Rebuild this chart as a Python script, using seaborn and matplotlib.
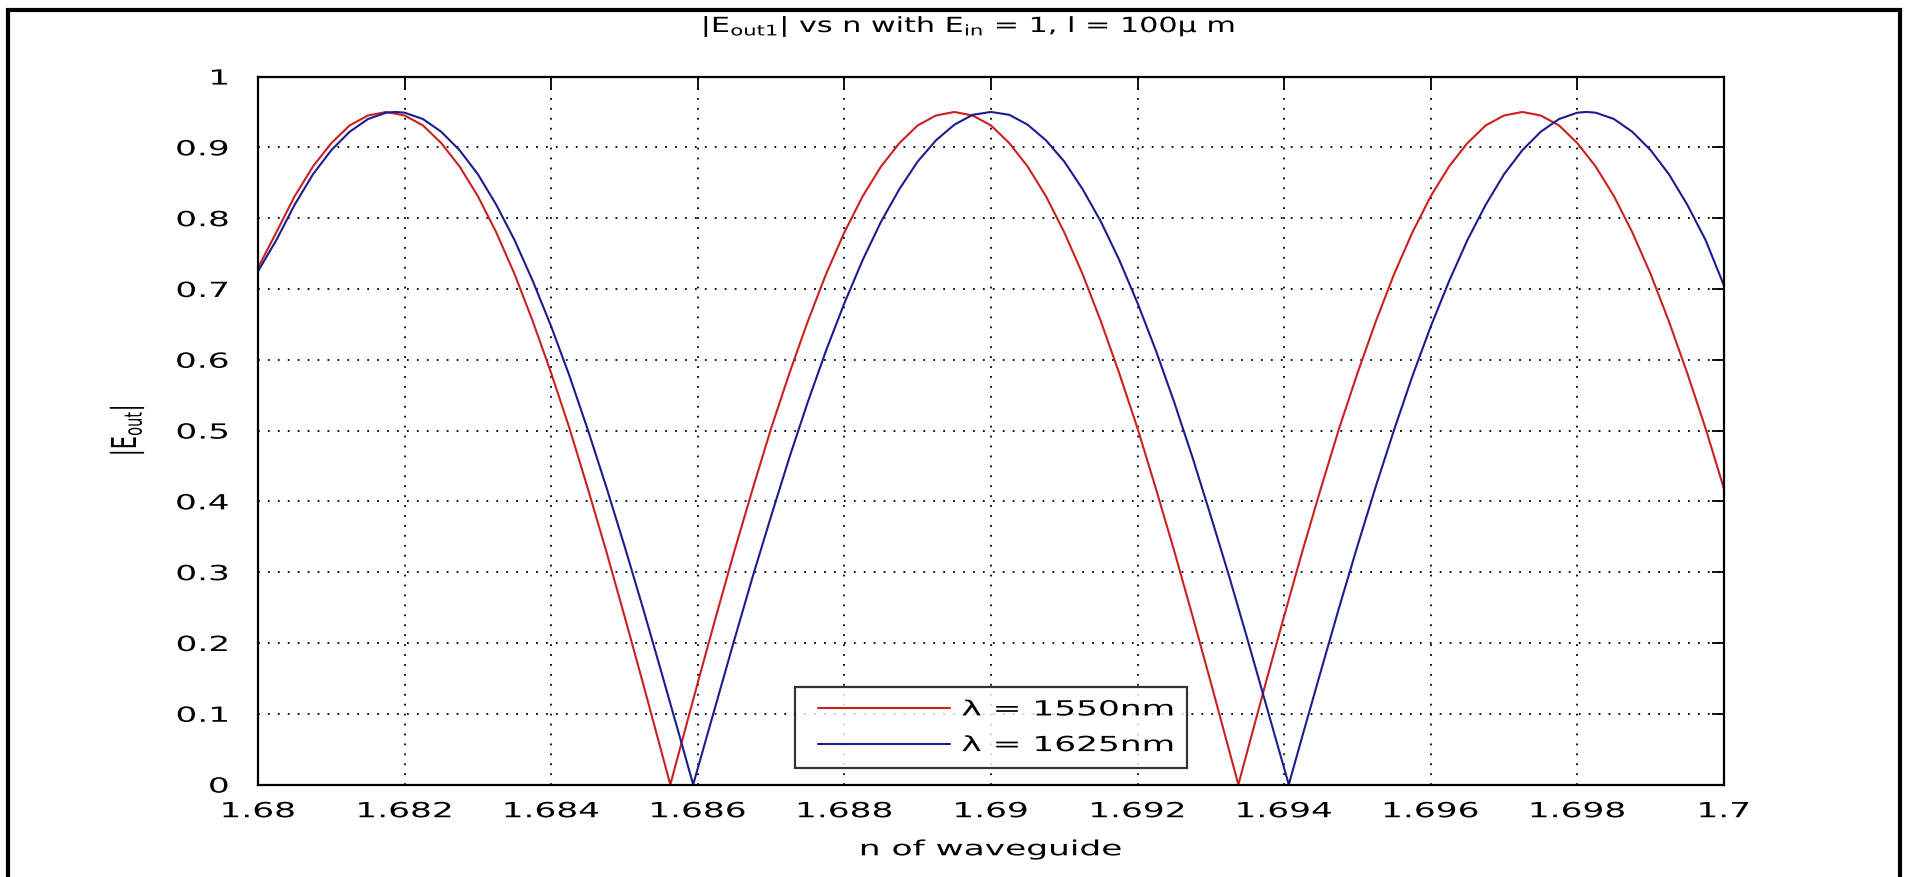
import numpy as np
import pandas as pd
import matplotlib
matplotlib.use("Agg")
import matplotlib.pyplot as plt
from matplotlib.patches import Rectangle
from matplotlib.patheffects import AbstractPathEffect
from matplotlib.transforms import Affine2D
import seaborn as sns

# values
n_red = [1.68000, 1.68025, 1.68050, 1.68075, 1.68100, 1.68125, 1.68150, 1.68175, 1.68200, 1.68225,
         1.68250, 1.68275, 1.68300, 1.68325, 1.68350, 1.68375, 1.68400, 1.68425, 1.68450, 1.68475,
         1.68500, 1.68525, 1.68550, 1.685625, 1.68575, 1.68600, 1.68625, 1.68650, 1.68675, 1.68700,
         1.68725, 1.68750, 1.68775, 1.68800, 1.68825, 1.68850, 1.68875, 1.68900, 1.68925, 1.68950,
         1.68975, 1.69000, 1.69025, 1.69050, 1.69075, 1.69100, 1.69125, 1.69150, 1.69175, 1.69200,
         1.69225, 1.69250, 1.69275, 1.69300, 1.69325, 1.693375, 1.69350, 1.69375, 1.69400, 1.69425,
         1.69450, 1.69475, 1.69500, 1.69525, 1.69550, 1.69575, 1.69600, 1.69625, 1.69650, 1.69675,
         1.69700, 1.69725, 1.69750, 1.69775, 1.69800, 1.69825, 1.69850, 1.69875, 1.69900, 1.69925,
         1.69950, 1.69975, 1.70000]
e_red = [0.730, 0.780, 0.831, 0.873, 0.906, 0.931, 0.945, 0.950, 0.945, 0.931,
         0.906, 0.873, 0.831, 0.780, 0.721, 0.654, 0.581, 0.503, 0.418, 0.330,
         0.238, 0.144, 0.048, 0.000, 0.048, 0.144, 0.238, 0.330, 0.418, 0.503,
         0.581, 0.654, 0.721, 0.780, 0.831, 0.873, 0.906, 0.931, 0.945, 0.950,
         0.945, 0.931, 0.906, 0.873, 0.831, 0.780, 0.721, 0.654, 0.581, 0.503,
         0.418, 0.330, 0.238, 0.144, 0.048, 0.000, 0.048, 0.144, 0.238, 0.330,
         0.418, 0.503, 0.581, 0.654, 0.721, 0.780, 0.831, 0.873, 0.906, 0.931,
         0.945, 0.950, 0.945, 0.931, 0.906, 0.873, 0.831, 0.780, 0.721, 0.654,
         0.581, 0.503, 0.418]

n_blue = [1.68000, 1.68025, 1.68050, 1.68075, 1.68100, 1.68125, 1.68150, 1.68175, 1.681875, 1.68200,
          1.68225, 1.68250, 1.68275, 1.68300, 1.68325, 1.68350, 1.68375, 1.68400, 1.68425, 1.68450,
          1.68475, 1.68500, 1.68525, 1.68550, 1.68575, 1.685937, 1.68600, 1.68625, 1.68650, 1.68675,
          1.68700, 1.68725, 1.68750, 1.68775, 1.68800, 1.68825, 1.68850, 1.68875, 1.68900, 1.68925,
          1.68950, 1.68975, 1.69000, 1.69025, 1.69050, 1.69075, 1.69100, 1.69125, 1.69150, 1.69175,
          1.69200, 1.69225, 1.69250, 1.69275, 1.69300, 1.69325, 1.69350, 1.69375, 1.69400, 1.694063,
          1.69425, 1.69450, 1.69475, 1.69500, 1.69525, 1.69550, 1.69575, 1.69600, 1.69625, 1.69650,
          1.69675, 1.69700, 1.69725, 1.69750, 1.69775, 1.69800, 1.698125, 1.69825, 1.69850, 1.69875,
          1.69900, 1.69925, 1.69950, 1.69975, 1.70000]
e_blue = [0.725, 0.769, 0.819, 0.862, 0.896, 0.922, 0.940, 0.949, 0.950, 0.949,
          0.940, 0.922, 0.896, 0.862, 0.819, 0.769, 0.711, 0.647, 0.577, 0.501,
          0.421, 0.337, 0.250, 0.160, 0.069, 0.000, 0.023, 0.114, 0.205, 0.294,
          0.379, 0.462, 0.540, 0.613, 0.680, 0.741, 0.795, 0.841, 0.880, 0.910,
          0.932, 0.946, 0.950, 0.946, 0.932, 0.910, 0.880, 0.841, 0.795, 0.741,
          0.680, 0.613, 0.540, 0.462, 0.379, 0.294, 0.205, 0.114, 0.023, 0.000,
          0.069, 0.160, 0.250, 0.337, 0.421, 0.501, 0.577, 0.647, 0.711, 0.769,
          0.819, 0.862, 0.896, 0.922, 0.940, 0.949, 0.950, 0.949, 0.940, 0.922,
          0.896, 0.862, 0.819, 0.769, 0.705]

series_labels = ["λ = 1550nm", "λ = 1625nm"]
series_colors = ["#cc2020", "#1c1c8f"]

x_ticks = [1.68, 1.682, 1.684, 1.686, 1.688, 1.69, 1.692, 1.694, 1.696, 1.698, 1.7]
x_tick_labels = ["1.68", "1.682", "1.684", "1.686", "1.688", "1.69",
                 "1.692", "1.694", "1.696", "1.698", "1.7"]
y_ticks = [0, 0.1, 0.2, 0.3, 0.4, 0.5, 0.6, 0.7, 0.8, 0.9, 1]
y_tick_labels = ["0", "0.1", "0.2", "0.3", "0.4", "0.5", "0.6", "0.7", "0.8", "0.9", "1"]


# the reference text looks horizontally stretched, so widen the glyphs
class Stretch(AbstractPathEffect):
    def __init__(self, sx=1.0, sy=1.0, anchor="center"):
        super().__init__()
        self.sx = sx
        self.sy = sy
        self.anchor = anchor

    def draw_path(self, renderer, gc, tpath, affine, rgbFace=None):
        ext = tpath.get_extents()
        x0 = {"left": ext.x0, "center": (ext.x0 + ext.x1) / 2, "right": ext.x1}[self.anchor]
        y0 = (ext.y0 + ext.y1) / 2
        st = Affine2D().translate(-x0, -y0).scale(self.sx, self.sy).translate(x0, y0)
        renderer.draw_path(gc, tpath, st + affine, rgbFace)


df = pd.concat([
    pd.DataFrame({"n": n_red, "E": e_red, "series": series_labels[0]}),
    pd.DataFrame({"n": n_blue, "E": e_blue, "series": series_labels[1]}),
])

sns.set_theme(style="white")
plt.rcParams["font.family"] = ["DejaVu Sans"]
plt.rcParams["mathtext.default"] = "regular"
plt.rcParams["text.color"] = "black"
fs = 15
sx = 1.65

fig = plt.figure(figsize=(19.07, 8.77), dpi=100)
ax = fig.add_axes([0.1353, 0.1054, 0.7687, 0.8073])

sns.lineplot(data=df, x="n", y="E", hue="series", palette=series_colors,
             estimator=None, sort=False, linewidth=1.5, ax=ax)

ax.set_xlim(1.68, 1.70)
ax.set_ylim(0, 1)
ax.set_xticks(x_ticks)
ax.set_xticklabels(x_tick_labels)
ax.set_yticks(y_ticks)
ax.set_yticklabels(y_tick_labels)
ax.tick_params(direction="in", length=9, width=1.3, top=True, right=True,
               labelsize=fs, colors="black")
ax.tick_params(axis="x", pad=12)
ax.tick_params(axis="y", pad=21)
ax.grid(True, color="black", linestyle=(0, (1, 4.5)), linewidth=1.3)
for sp in ax.spines.values():
    sp.set_color("black")
    sp.set_linewidth(1.6)

ax.set_xlabel("n of waveguide", fontsize=fs, color="black", labelpad=13,
              path_effects=[Stretch(sx)])
ax.set_ylabel(r"$|E_{out}|$", fontsize=fs, color="black", labelpad=40,
              path_effects=[Stretch(sy=sx)])
ax.set_title(r"$|E_{out1}|$ vs n with $E_{in}$ = 1, l = 100µ m", x=0.485,
             fontsize=fs, color="black", pad=32, path_effects=[Stretch(1.45)])

# measure the legend text so the box can hold the widened labels
probe = fig.text(0, 0, series_labels[0], fontsize=fs)
renderer = fig.canvas.get_renderer()
w_text = probe.get_window_extent(renderer).width
probe.remove()
px_per_em = fs * fig.dpi / 72
line_px = 132
lead_px = 10
handle_em = (lead_px + line_px + (sx - 1) * w_text) / px_per_em

leg = ax.legend(loc="lower center", bbox_to_anchor=(0.5, 0.0234), borderaxespad=0,
                fontsize=fs, handlelength=handle_em, frameon=True, fancybox=False,
                borderpad=0.62, labelspacing=0.75, handletextpad=0.5)
leg.get_frame().set_edgecolor("black")
leg.get_frame().set_linewidth(1.6)
pt_per_px = 72 / fig.dpi
for line in leg.get_lines():
    line.set_linewidth(1.5)
    k = len(line.get_ydata())
    line.set_xdata(np.linspace(lead_px * pt_per_px, (lead_px + line_px) * pt_per_px, k))
for t in leg.get_texts():
    t.set_color("black")
    t.set_path_effects([Stretch(sx, anchor="right")])

fig.canvas.draw()
for t in ax.get_xticklabels():
    t.set_path_effects([Stretch(sx, anchor="center")])
for t in ax.get_yticklabels():
    t.set_path_effects([Stretch(sx, anchor="right")])

# outer black frame around the figure
fig.patches.append(Rectangle((0.0042, -0.05), 0.9921, 1.0386, transform=fig.transFigure,
                             fill=False, edgecolor="black", linewidth=3, zorder=10))

fig.savefig("out.png", dpi=100)
